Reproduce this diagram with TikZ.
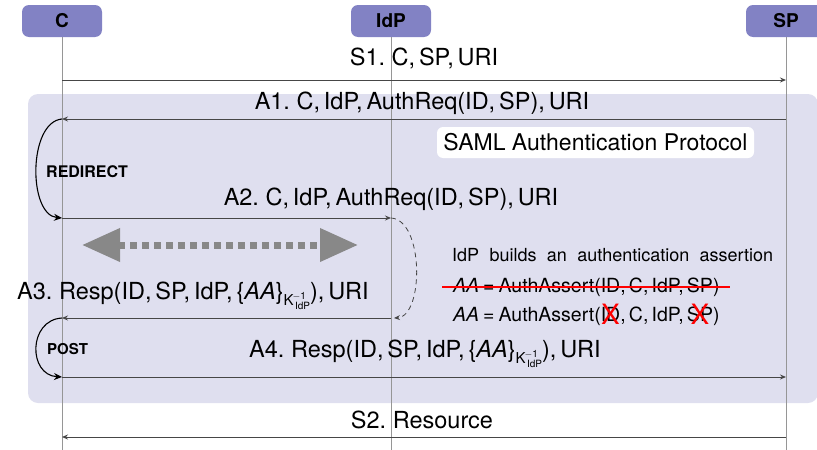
\documentclass[tikz,border=0pt]{standalone}
\usepackage{fontspec}
\setmainfont{TeX Gyre Heros}
\usepackage{amsmath}
\usetikzlibrary{arrows.meta}
\frenchspacing
\definecolor{hdr}{RGB}{130,130,196}
\definecolor{bgp}{RGB}{223,223,239}
\definecolor{lifeg}{RGB}{150,150,150}
\definecolor{msgc}{RGB}{70,70,70}
\definecolor{bigarr}{RGB}{136,136,136}
\newcommand\redx[1]{\ooalign{#1\cr\hidewidth\raisebox{-3pt}{\textcolor{red}{\fontsize{28}{28}\selectfont X}}\hidewidth\cr}}
\newcommand\kinv{\raisebox{-6pt}{\fontsize{15}{15}\selectfont K\raisebox{6pt}{\fontsize{10}{10}\selectfont\kern-1pt$-$1}\kern-11pt\raisebox{-4pt}{\fontsize{10}{10}\selectfont IdP}}}
\begin{document}
\begin{tikzpicture}[x=1pt,y=-1pt,
 actor/.style={fill=hdr, rounded corners=7pt, minimum width=80pt, minimum height=32pt, inner sep=0pt, font=\fontsize{19}{19}\selectfont\bfseries},
 lifeline/.style={draw=lifeg, line width=0.7pt},
 msg/.style={draw=msgc, line width=0.9pt, -{Stealth[length=6pt,width=5pt,inset=2pt]}},
 lbl/.style={anchor=base, inner sep=0pt, font=\fontsize{23.5}{24}\selectfont},
 mode/.style={draw=black, line width=1.1pt, -{Stealth[length=8pt,width=7pt]}},
 modelbl/.style={anchor=base west, inner sep=0pt, font=\bfseries\fontsize{16}{16}\selectfont},
 eqlbl/.style={anchor=base west, inner sep=0pt, font=\fontsize{19.5}{20}\selectfont},
]
\useasboundingbox (0,0) rectangle (817,450);
\fill[bgp, rounded corners=10pt] (28,94) rectangle (818,403);
% actors
\node[actor] (C) at (62,21) {C};
\node[actor] (I) at (391,21) {IdP};
\node[actor] (S) at (786,21) {SP};
\coordinate (Cb) at (62,450);
\coordinate (Ib) at (391,450);
\coordinate (Sb) at (786,450);
\draw[lifeline] (C.south) -- (Cb);
\draw[lifeline] (I.south) -- (Ib);
\draw[lifeline] (S.south) -- (Sb);
% coordinates on lifelines
\coordinate (c1) at (62,80);  \coordinate (s1) at (786,80);
\coordinate (c2) at (62,119); \coordinate (s2) at (786,119);
\coordinate (c3) at (62,218); \coordinate (i3) at (391,218);
\coordinate (c4) at (62,318); \coordinate (i4) at (391,318); \coordinate (i4b) at (394,318);
\coordinate (c5) at (62,377); \coordinate (s5) at (786,377);
\coordinate (c6) at (62,437); \coordinate (s6) at (786,437);
% S1
\draw[msg] (c1) -- (s1);
\node[lbl] (l1) at (424,65) {S1. C,\,SP,\,URI};
% A1
\draw[msg] (s2) -- (c2);
\node[lbl] (l2) at (422,109) {A1. C,\,IdP,\,AuthReq(ID,\,SP),\,URI};
% SAML box
\node[fill=white, rounded corners=6pt, minimum width=317pt, minimum height=31pt, inner sep=0pt, font=\fontsize{23}{23}\selectfont] (saml) at (595.5,142.5) {SAML Authentication Protocol};
% redirect
\draw[mode] (c2) .. controls (28,122) and (28,215) .. (c3);
\node[modelbl] (redir) at (46,177) {REDIRECT};
% A2
\draw[msg] (c3) -- (i3);
\node[lbl] (l3) at (391,205) {A2. C,\,IdP,\,AuthReq(ID,\,SP),\,URI};
% dashed IdP processing
\draw[msgc, line width=0.8pt, dash pattern=on 5pt off 4pt, -{Stealth[length=6pt,width=5pt,inset=2pt]}] (i3) .. controls (424,220) and (424,316) .. (i4b);
% big gray double arrow
\coordinate (ga) at (82,245);
\coordinate (gb) at (358,245);
\draw[bigarr, line width=7pt, dash pattern=on 7pt off 5pt, {Triangle[length=38pt,width=32pt]}-{Triangle[length=38pt,width=32pt]}] (ga) -- (gb);
% IdP note
\node[anchor=base west, inner sep=0pt, font=\fontsize{18}{18}\selectfont] (note) at (452,261) {\makebox[321pt][s]{IdP builds an authentication assertion}};
\node[eqlbl] (aa1) at (453,292) {\textit{AA}\hspace{4pt}=\hspace{4pt}AuthAssert(ID,\,C,\,IdP,\,SP)};
\coordinate (st1) at (442,287);
\coordinate (st2) at (730,287);
\draw[red, line width=1.3pt] (st1) -- (st2);
\node[eqlbl] (aa2) at (453,321) {\textit{AA}\hspace{4pt}=\hspace{4pt}AuthAssert(\redx{ID},\,C,\,IdP,\,\redx{SP})};
% A3
\draw[msg] (i4) -- (c4);
\node[lbl] (l4) at (193,299) {A3. Resp(ID,\,SP,\,IdP,\,\{\textit{AA}\}\kinv),\,URI};
% POST
\draw[mode] (c4) .. controls (28,320) and (28,375) .. (c5);
\node[modelbl, font=\bfseries\fontsize{15}{15}\selectfont] (post) at (47,354) {POST};
% A4
\draw[msg] (c5) -- (s5);
\node[lbl] (l5) at (425,357) {A4. Resp(ID,\,SP,\,IdP,\,\{\textit{AA}\}\kinv),\,URI};
% S2
\draw[msg] (s6) -- (c6);
\node[lbl] (l6) at (422,428) {S2. Resource};
\end{tikzpicture}
\end{document}
